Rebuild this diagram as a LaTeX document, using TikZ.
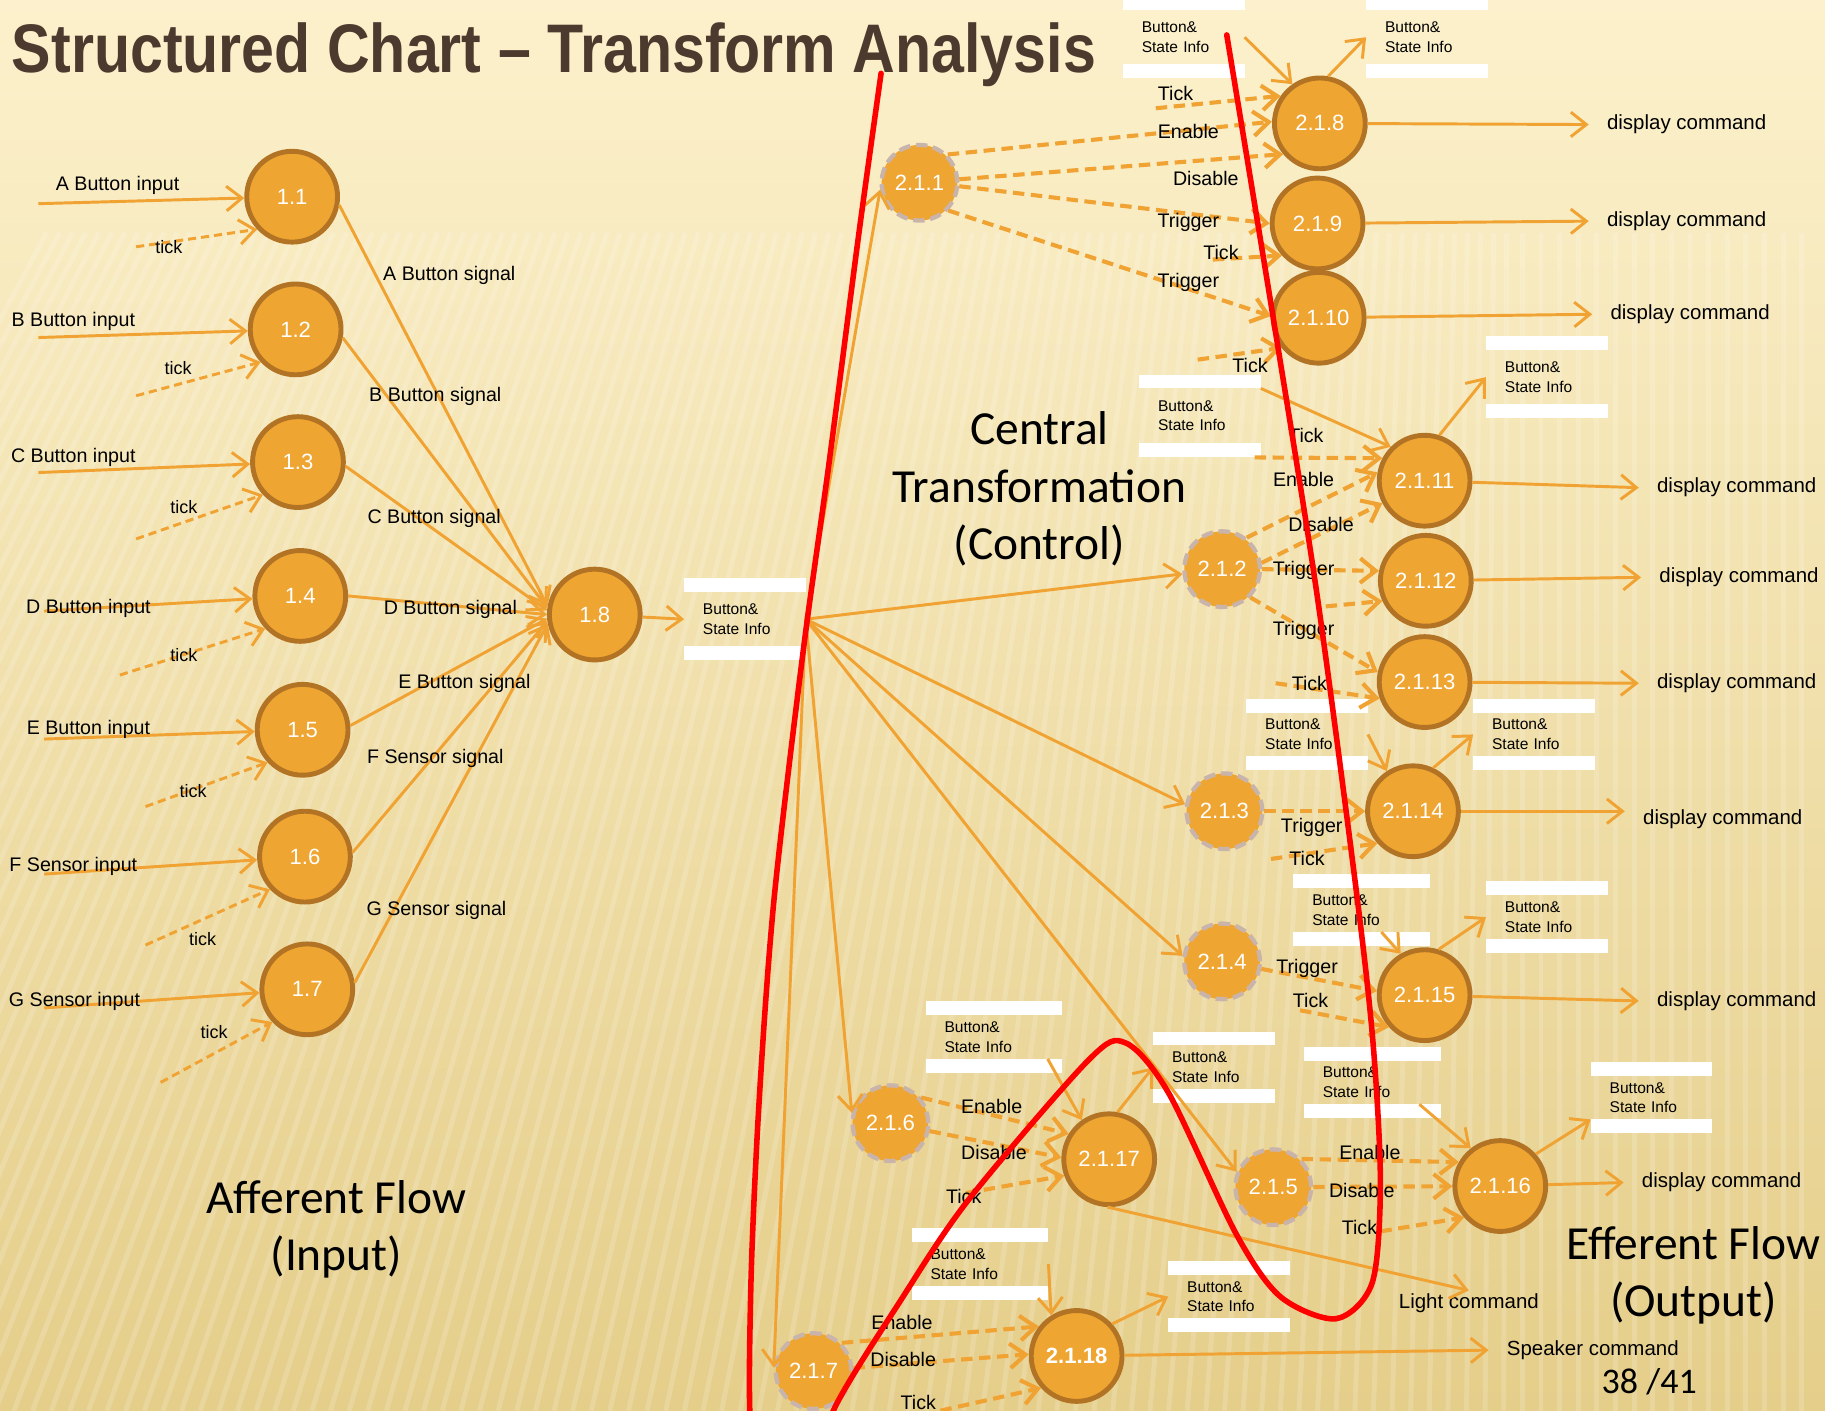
\documentclass[tikz,border=0pt]{standalone}
\usepackage{fontspec}
\setmainfont{Liberation Sans}
\newfontfamily\titlefont{Liberation Sans}[FakeStretch=0.86]
\newfontfamily\bigfont{Carlito}
\usetikzlibrary{arrows.meta}

\definecolor{procfill}{RGB}{239,165,49}
\definecolor{procedge}{RGB}{178,116,36}
\definecolor{ctrledge}{RGB}{201,180,172}
\definecolor{flowc}{RGB}{240,163,50}
\definecolor{titlec}{RGB}{76,58,46}
\definecolor{bgtop}{RGB}{252,241,204}
\definecolor{bgmid}{RGB}{246,228,173}
\definecolor{bgbot}{RGB}{229,206,138}

\newcommand{\bsinfo}{Button\&\\State Info}

\begin{document}
\begin{tikzpicture}[x=0.025cm, y=-0.025cm,
  proc/.style={circle, draw=procedge, fill=procfill, line width=3pt, minimum size=1.95cm, inner sep=0pt, text=white, font=\fontsize{13.5}{15}\selectfont},
  ctrl/.style={circle, draw=ctrledge, dash pattern=on 7pt off 3.5pt, fill=procfill, line width=2.6pt, minimum size=1.625cm, inner sep=0pt, text=white, font=\fontsize{13.5}{15}\selectfont},
  store/.style={minimum width=2.6cm, minimum height=0.925cm, text width=1.8cm, align=left, inner sep=0pt, font=\fontsize{9.5}{12}\selectfont},
  wstore/.style={store, minimum width=2.925cm, text width=2.125cm},
  tstore/.style={store, minimum height=1.15cm},
  flow/.style={draw=flowc, line width=1.8pt, -{Straight Barb[length=9.5pt, width=15pt]}},
  tickflow/.style={flow, dash pattern=on 5pt off 3pt},
  cflow/.style={flow, line width=2.5pt, dash pattern=on 7pt off 4pt},
  lbl/.style={inner sep=1pt, font=\fontsize{12}{14}\selectfont},
  tlbl/.style={inner sep=1pt, font=\fontsize{11}{13}\selectfont},
  cmd/.style={inner xsep=11pt, inner ysep=2pt, font=\fontsize{12.5}{14}\selectfont},
  outlbl/.style={cmd, anchor=west},
  big/.style={align=center, font=\bigfont\fontsize{29}{35}\selectfont}]

% background
\useasboundingbox (0,0) rectangle (1568,1212);
\shade[top color=bgtop, middle color=bgmid, bottom color=bgbot] (0,0) rectangle (1568,1212);
\begin{scope}
  \clip (0,200) rectangle (1568,1212);
  \foreach \x in {-500,-484,...,1560}
    \draw[white, opacity=0.17, line width=3pt] (\x,1212) -- ({\x+max(0,0.3*(1300-\x))},200);
\end{scope}

\node[anchor=base west, inner sep=0pt, text=titlec, font=\titlefont\bfseries\fontsize{42}{48}\selectfont] (title) at (10,62) {Structured Chart – Transform Analysis};

% data stores
\node[tstore] (ds0) at (640,532) {\bsinfo};
\node[tstore] (ds1) at (1017,32) {\bsinfo};
\node[tstore] (ds2) at (1226,32) {\bsinfo};
\node[tstore] (ds3) at (1031,357) {\bsinfo};
\node[tstore] (ds4) at (1329,324) {\bsinfo};
\node[store] (ds5) at (1123,631) {\bsinfo};
\node[store] (ds6) at (1318,631) {\bsinfo};
\node[wstore] (ds7) at (1170,782) {\bsinfo};
\node[store] (ds8) at (1329,788) {\bsinfo};
\node[wstore] (ds9) at (1179,930) {\bsinfo};
\node[store] (ds10) at (1419,943) {\bsinfo};
\node[wstore] (ds11) at (854,891) {\bsinfo};
\node[store] (ds12) at (1043,917) {\bsinfo};
\node[wstore] (ds13) at (842,1086) {\bsinfo};
\node[store] (ds14) at (1056,1114) {\bsinfo};
\foreach \s in {ds0,ds1,ds2,ds3,ds4,ds5,ds6,ds7,ds8,ds9,ds10,ds11,ds12,ds13,ds14} {
  \fill[white] (\s.north west) rectangle ([yshift=8.5pt]\s.north east);
  \fill[white] (\s.south west) rectangle ([yshift=-8.5pt]\s.south east);
}

% afferent side
\node[proc] (n11) at (251,169) {1.1};
\node[proc] (n12) at (254,283) {1.2};
\node[proc] (n13) at (256,397) {1.3};
\node[proc] (n14) at (258,512) {1.4};
\node[proc] (n15) at (260,627) {1.5};
\node[proc] (n16) at (262,736) {1.6};
\node[proc] (n17) at (264,850) {1.7};
\node[proc] (n18) at (511,528) {1.8};

% control modules
\node[ctrl] (n211) at (790,157) {2.1.1};
\node[ctrl] (n212) at (1050,489) {2.1.2};
\node[ctrl] (n213) at (1052,697) {2.1.3};
\node[ctrl] (n214) at (1050,826) {2.1.4};
\node[ctrl] (n215) at (1094,1020) {2.1.5};
\node[ctrl] (n216) at (765,965) {2.1.6};
\node[ctrl] (n217) at (699,1178) {2.1.7};

% efferent modules
\node[proc] (n218) at (1134,106) {2.1.8};
\node[proc] (n219) at (1132,192) {2.1.9};
\node[proc] (n2110) at (1133,273) {2.1.10};
\node[proc] (n2111) at (1224,413) {2.1.11};
\node[proc] (n2112) at (1225,499) {2.1.12};
\node[proc] (n2113) at (1224,586) {2.1.13};
\node[proc] (n2114) at (1214,697) {2.1.14};
\node[proc] (n2115) at (1224,855) {2.1.15};
\node[proc] (n2116) at (1289,1019) {2.1.16};
\node[proc] (n2117) at (953,996) {2.1.17};
\node[proc, font=\bfseries\fontsize{13.5}{15}\selectfont] (n2118) at (925,1165) {2.1.18};

% inputs
\coordinate (ia) at (33,175); \coordinate (ka) at (117,212);
\coordinate (ib) at (33,290); \coordinate (kb) at (117,340);
\coordinate (ic) at (33,406); \coordinate (kc) at (117,463);
\coordinate (id) at (38,525); \coordinate (kd) at (103,580);
\coordinate (ie) at (38,635); \coordinate (ke) at (125,693);
\coordinate (if) at (38,751); \coordinate (kf) at (125,812);
\coordinate (ig) at (38,866); \coordinate (kg) at (138,930);
\draw[flow] (ia) -- (n11);  \draw[tickflow] (ka) -- (n11.223);
\draw[flow] (ib) -- (n12);  \draw[tickflow] (kb) -- (n12.223);
\draw[flow] (ic) -- (n13);  \draw[tickflow] (kc) -- (n13.223);
\draw[flow] (id) -- (n14);  \draw[tickflow] (kd) -- (n14.223);
\draw[flow] (ie) -- (n15);  \draw[tickflow] (ke) -- (n15.223);
\draw[flow] (if) -- (n16);  \draw[tickflow] (kf) -- (n16.223);
\draw[flow] (ig) -- (n17);  \draw[tickflow] (kg) -- (n17.223);
\node[lbl] (lia) at (101,159) {A Button input};
\node[lbl] (lib) at (63,276) {B Button input};
\node[lbl] (lic) at (63,393) {C Button input};
\node[lbl] (lid) at (76,523) {D Button input};
\node[lbl] (lie) at (76,627) {E Button input};
\node[lbl] (lif) at (63,744) {F Sensor input};
\node[lbl] (lig) at (64,860) {G Sensor input};
\node[tlbl] (lka) at (145,212) {tick};
\node[tlbl] (lkb) at (153,316) {tick};
\node[tlbl] (lkc) at (158,436) {tick};
\node[tlbl] (lkd) at (158,563) {tick};
\node[tlbl] (lke) at (166,680) {tick};
\node[tlbl] (lkf) at (174,807) {tick};
\node[tlbl] (lkg) at (184,887) {tick};

% signals into 1.8
\draw[flow] (n11.350) -- (n18.170);
\draw[flow] (n12.350) -- (n18.172);
\draw[flow] (n13.355) -- (n18.175);
\draw[flow] (n14.0) -- (n18.180);
\draw[flow] (n15.5) -- (n18.185);
\draw[flow] (n16.5) -- (n18.188);
\draw[flow] (n17.8) -- (n18.191);
\node[lbl] (lsa) at (386,237) {A Button signal};
\node[lbl] (lsb) at (374,341) {B Button signal};
\node[lbl] (lsc) at (373,445) {C Button signal};
\node[lbl] (lsd) at (387,524) {D Button signal};
\node[lbl] (lse) at (399,587) {E Button signal};
\node[lbl] (lsf) at (374,652) {F Sensor signal};
\node[lbl] (lsg) at (375,782) {G Sensor signal};
\draw[flow] (n18) -- (ds0.west);

% central fan
\draw[flow] (ds0.east) -- (n211.190);
\draw[flow] (ds0.east) -- (n212);
\draw[flow] (ds0.east) -- (n213.170);
\draw[flow] (ds0.east) -- (n214.172);
\draw[flow] (ds0.east) -- (n215.157);
\draw[flow] (ds0.east) -- (n216.165);
\draw[flow] (ds0.east) -- (n217.175);

% 2.1.1 -> 2.1.8 .. 2.1.10
\draw[cflow] (n211.45) -- (n218.178);
\draw[cflow] (n211.5) -- (n218.220);
\draw[cflow] (n211.355) -- (n219.180);
\draw[cflow] (n211.316) -- (n2110.178);
\coordinate (t8) at (993,93);    \draw[cflow] (t8) -- (n218.145);
\coordinate (t9) at (1042,223);  \draw[cflow] (t9) -- (n219.222);
\coordinate (t10) at (1029,309); \draw[cflow] (t10) -- (n2110.219);
\draw[flow] (ds1.east) -- (n218.125);
\draw[flow] (n218.80) -- (ds2.west);
\node[lbl] (lt8) at (1010,80) {Tick};
\node[lbl] (le8) at (1021,113) {Enable};
\node[lbl] (ld8) at (1036,153) {Disable};
\node[lbl] (lg9) at (1021,191) {Trigger};
\node[lbl] (lt9) at (1049,217) {Tick};
\node[lbl] (lg10) at (1021,243) {Trigger};
\node[lbl] (lt10) at (1074,314) {Tick};

% 2.1.2 -> 2.1.11 .. 2.1.13
\draw[flow] (ds3.north east) -- (n2111.135);
\coordinate (t11) at (1078,393); \draw[cflow] (t11) -- (n2111.152);
\draw[flow] (n2111.72) -- (ds4.west);
\draw[cflow] (n212.52) -- (n2111.170);
\draw[cflow] (n212.9) -- (n2111.208);
\draw[cflow] (n212.east) -- (n2112.168);
\coordinate (t12) at (1139,521); \draw[cflow] (t12) -- (n2112.205);
\draw[cflow] (n212.315) -- (n2113.168);
\coordinate (t13) at (1096,587); \draw[cflow] (t13) -- (n2113.200);
\node[lbl] (lt11) at (1122,374) {Tick};
\node[lbl] (le11) at (1120,412) {Enable};
\node[lbl] (ld11) at (1135,451) {Disable};
\node[lbl] (lg12) at (1120,490) {Trigger};
\node[lbl] (lg13) at (1120,542) {Trigger};
\node[lbl] (lt13) at (1125,587) {Tick};

% 2.1.3 -> 2.1.14
\draw[cflow] (n213) -- (n2114);
\coordinate (t14) at (1092,738); \draw[cflow] (t14) -- (n2114.222);
\draw[flow] (ds5.east) -- (n2114.123);
\draw[flow] (n2114.65) -- (ds6.west);
\node[lbl] (lg14) at (1127,711) {Trigger};
\node[lbl] (lt14) at (1123,738) {Tick};

% 2.1.4 -> 2.1.15
\draw[cflow] (n214) -- (n2115.175);
\coordinate (t15) at (1117,868); \draw[cflow] (t15) -- (n2115.222);
\draw[flow] ([xshift=12pt]ds7.south) -- (n2115.120);
\draw[flow] (n2115.73) -- (ds8.west);
\node[lbl] (lg15) at (1123,832) {Trigger};
\node[lbl] (lt15) at (1126,860) {Tick};

% 2.1.5 -> 2.1.16
\draw[cflow] (n215.45) -- (n2116.150);
\draw[cflow] (n215) -- (n2116);
\coordinate (t16) at (1186,1058); \draw[cflow] (t16) -- (n2116.221);
\draw[flow] ([xshift=-13pt]ds9.south east) -- (n2116.128);
\draw[flow] (n2116.42) -- (ds10.south west);
\node[lbl] (le16) at (1177,990) {Enable};
\node[lbl] (ld16) at (1170,1023) {Disable};
\node[lbl] (lt16) at (1168,1055) {Tick};

% 2.1.6 -> 2.1.17
\draw[cflow] (n216.40) -- (n2117.148);
\draw[cflow] (n216) -- (n2117.178);
\coordinate (t17) at (830,1025); \draw[cflow] (t17) -- (n2117.200);
\draw[flow] ([xshift=-9pt]ds11.south east) -- (n2117.125);
\draw[flow] (n2117.80) -- (ds12.west);
\node[lbl] (le17) at (852,951) {Enable};
\node[lbl] (ld17) at (854,990) {Disable};
\node[lbl] (lt17) at (828,1028) {Tick};

% 2.1.7 -> 2.1.18
\draw[cflow] (n217.45) -- (n2118.142);
\draw[cflow] (n217) -- (n2118.178);
\coordinate (t18) at (808,1212); \draw[cflow] (t18) -- (n2118.222);
\draw[flow] (ds13.east) -- (n2118.122);
\draw[flow] (n2118.42) -- (ds14.west);
\node[lbl] (le18) at (775,1136) {Enable};
\node[lbl] (ld18) at (776,1168) {Disable};
\node[lbl] (lt18) at (789,1205) {Tick};

% outputs
\node[outlbl] (dc8) at (1365,107) {display command};
\node[outlbl] (dc9) at (1365,190) {display command};
\node[outlbl] (dc10) at (1368,270) {display command};
\node[outlbl] (dc11) at (1408,419) {display command};
\node[outlbl] (dc12) at (1410,496) {display command};
\node[outlbl] (dc13) at (1408,587) {display command};
\node[outlbl] (dc14) at (1396,704) {display command};
\node[outlbl] (dc15) at (1408,860) {display command};
\node[outlbl] (dc16) at (1395,1016) {display command};
\node[cmd] (lc) at (1262,1120) {Light command};
\node[outlbl] (sc) at (1279,1160) {Speaker command};
\draw[flow] (n218) -- (dc8.west);
\draw[flow] (n219) -- (dc9.west);
\draw[flow] (n2110) -- (dc10.west);
\draw[flow] (n2111) -- (dc11.west);
\draw[flow] (n2112) -- (dc12.west);
\draw[flow] (n2113) -- (dc13.west);
\draw[flow] (n2114) -- (n2114 -| dc14.west);
\draw[flow] (n2115) -- (dc15.west);
\draw[flow] (n2116) -- (dc16.west);
\draw[flow] (n2117.268) -- (lc.north);
\draw[flow] (n2118) -- (sc.west);

% section titles
\node[big] (ctl) at (893,420) {Central\\Transformation\\(Control)};
\node[big] (aff) at (289,1056) {Afferent Flow\\(Input)};
\node[big] (eff) at (1455,1096) {Efferent Flow\\(Output)};
\node[font=\bigfont\fontsize{22}{24}\selectfont] (pg) at (1417,1187) {38 /41};

% red boundary
\begin{scope}
  \clip (0,0) rectangle (1568,1212);
  \draw[red, line width=3.4pt, line cap=round] plot[smooth, tension=0.5] coordinates {
    (757,63) (738,200) (712,400) (690,560) (665,773) (652,950) (645,1110)
    (646,1240) (670,1295) (705,1270) (716,1212) (774,1117) (832,1031)
    (935,911) (967,896) (1004,939) (1062,1060) (1100,1114) (1148,1133)
    (1179,1102) (1186,1017) (1180,900) (1166,771) (1132,514) (1096,286) (1054,30)};
\end{scope}
\end{tikzpicture}
\end{document}
